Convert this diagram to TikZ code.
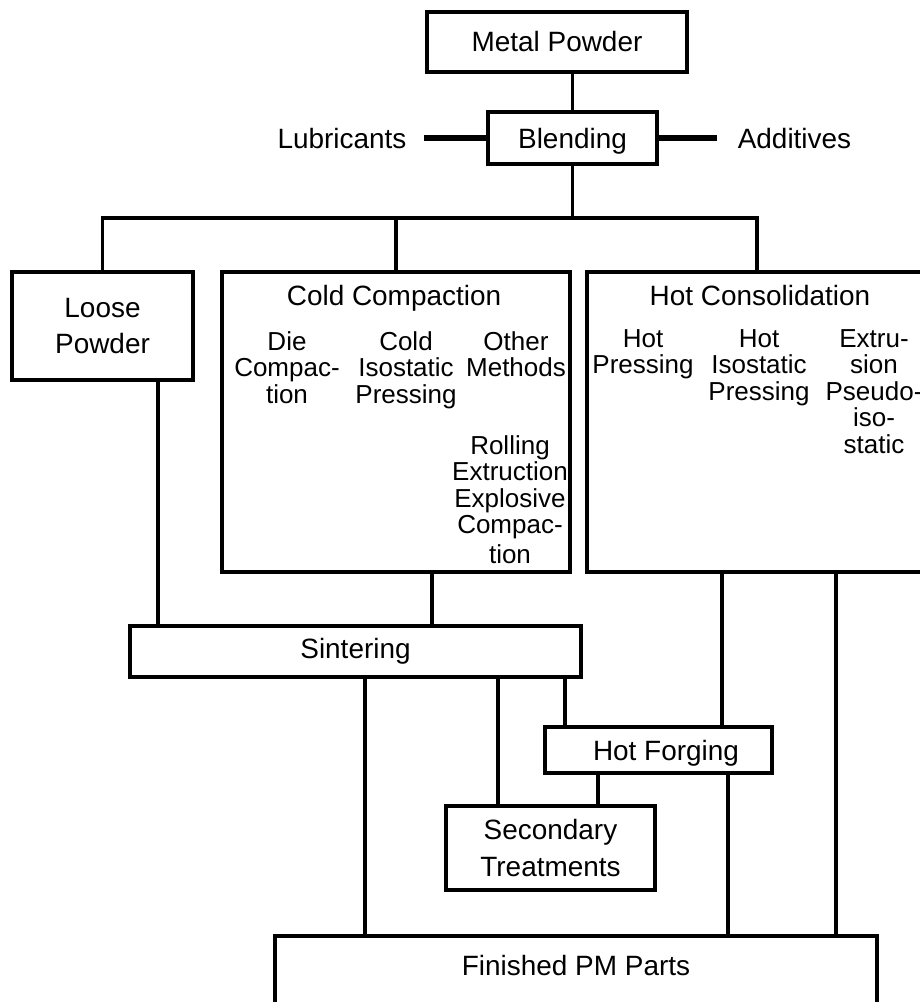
\documentclass[tikz,border=0pt]{standalone}
\usepackage{fontspec}
\setmainfont{Liberation Sans}
\begin{document}
\begin{tikzpicture}[x=0.02cm,y=-0.02cm,
  box/.style={draw, line width=2.4pt, fill=white, inner sep=0pt, align=center,
    font=\fontsize{15.9}{21}\selectfont},
  lbl/.style={inner sep=0pt, align=center, font=\fontsize{15.9}{21}\selectfont},
  sub/.style={inner sep=0pt, anchor=north, align=center, font=\fontsize{14.8}{15.1}\selectfont},
  conn/.style={line width=2pt},
  side/.style={line width=3pt}]
\useasboundingbox (0,0) rectangle (920,1002);
\clip (0,0) rectangle (920,1002);
% boxes
\node[box, minimum width=5.2cm, minimum height=1.2cm] (mp) at (557,42) {Metal Powder};
\node[box, minimum width=3.38cm, minimum height=1.04cm, text depth=0pt] (bl) at (572.5,138) {Blending};
\node[lbl, outer sep=0.36cm] (lub) at (342,139) {Lubricants};
\node[lbl, outer sep=0.42cm] (add) at (794.5,139) {Additives};
\node[box, minimum width=3.62cm, minimum height=2.16cm] (lp) at (102.5,326) {Loose\\Powder};
\node[box, minimum width=6.96cm, minimum height=6.0cm] (cc) at (396,422) {};
\node[box, minimum width=6.8cm, minimum height=6.0cm] (hc) at (757,422) {};
\node[box, minimum width=9.02cm, minimum height=1.02cm] (si) at (355.5,651.5) {Sintering};
\node[box, minimum width=4.54cm, minimum height=0.92cm, text depth=0pt] (hf) at (658.5,750) {\hspace*{0.3cm}Hot Forging};
\node[box, minimum width=4.18cm, minimum height=1.68cm] (st) at (550.5,848) {Secondary\\Treatments};
\node[box, minimum width=12.04cm, minimum height=2.08cm] (fp) at (576,988) {};
\node[lbl, anchor=north] (fpt) at (576,955) {Finished PM Parts};
% inner texts
\node[lbl, anchor=north] (cct) at (394,285) {Cold Compaction};
\node[lbl, anchor=north] (hct) at (760,285) {Hot Consolidation};
\node[sub] (c1) at (287,331) {Die\\Compac-\\tion};
\node[sub] (c2) at (406,331) {Cold\\Isostatic\\Pressing};
\node[sub] (c3) at (516,331) {Other\\Methods};
\node[sub] (c4) at (510,435) {Rolling\\Extruction\\Explosive\\Compac-\\[2pt]tion};
\node[sub] (h1) at (643,329) {Hot\\Pressing};
\node[sub] (h2) at (759,329) {Hot\\Isostatic\\Pressing};
\node[sub] (h3) at (874,329) {Extru-\\sion\\Pseudo-\\iso-\\static};
% helper coordinates
\coordinate (bus) at (573,218);
\coordinate (xa) at (158,0);
\coordinate (xb) at (432,0);
\coordinate (xc) at (365,0);
\coordinate (xd) at (498,0);
\coordinate (xe) at (565,0);
\coordinate (xf) at (722,0);
\coordinate (xg) at (836,0);
\coordinate (xh) at (598,0);
\coordinate (xi) at (728,0);
% connectors
\draw[conn] (mp.south -| bl.north) -- (bl.north);
\draw[side] (bl.west) -- (bl.west -| lub.east);
\draw[side] (bl.east) -- (bl.east -| add.west);
\draw[conn] (bl.south) -- (bl.south |- bus);
\draw[conn] (lp.north) |- (bus -| hc.north) -- (hc.north);
\draw[conn] (cc.north) -- (cc.north |- bus);
\draw[conn] (lp.south -| xa) -- (si.north -| xa);
\draw[conn] (cc.south -| xb) -- (si.north -| xb);
\draw[conn] (si.south -| xc) -- (fp.north -| xc);
\draw[conn] (si.south -| xd) -- (st.north -| xd);
\draw[conn] (si.south -| xe) -- (hf.north -| xe);
\draw[conn] (hc.south -| xf) -- (hf.north -| xf);
\draw[conn] (hc.south -| xg) -- (fp.north -| xg);
\draw[conn] (hf.south -| xh) -- (st.north -| xh);
\draw[conn] (hf.south -| xi) -- (fp.north -| xi);
\end{tikzpicture}
\end{document}
